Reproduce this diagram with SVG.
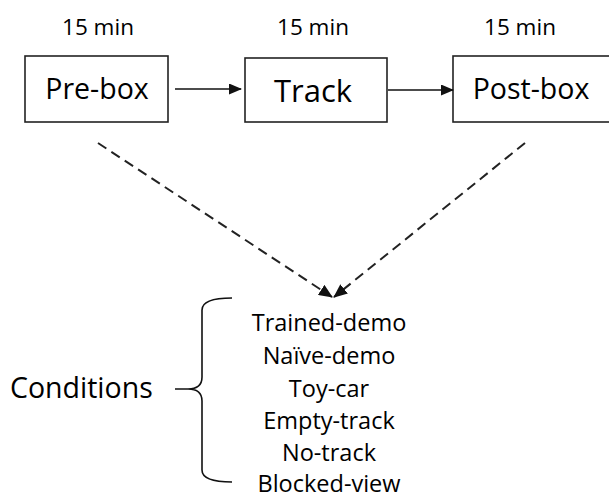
<svg xmlns="http://www.w3.org/2000/svg" width="609" height="499" viewBox="0 0 609 499">
<style>
  text { font-family: "Open Sans", "Liberation Sans", sans-serif; fill: #000; }
  .box { fill: #fff; stroke: #222; stroke-width: 1.6; }
  .time { font-size: 22.5px; text-anchor: middle; }
  .lbl { font-size: 28.5px; text-anchor: middle; }
  .cond { font-size: 23.5px; text-anchor: middle; }
  .solid { stroke: #111; stroke-width: 1.6; fill: none; }
  .dash { stroke: #222; stroke-width: 2; fill: none; stroke-dasharray: 10 6; }
</style>
<defs>
  <marker id="ah" markerWidth="13" markerHeight="11" refX="12" refY="5.5" orient="auto" markerUnits="userSpaceOnUse">
    <path d="M0,0 L13,5.5 L0,11 Z" fill="#111"/>
  </marker>
  <marker id="ahd" markerWidth="14" markerHeight="12" refX="13" refY="6" orient="auto" markerUnits="userSpaceOnUse">
    <path d="M0,0 L14,6 L0,12 Z" fill="#111"/>
  </marker>
</defs>
<rect width="609" height="499" fill="#fff"/>
<g id="labels-time">
  <text class="time" x="98" y="35">15 min</text>
  <text class="time" x="313" y="35">15 min</text>
  <text class="time" x="520" y="35">15 min</text>
</g>
<g id="node-prebox">
  <rect class="box" x="25" y="56" width="143" height="66"/>
  <text class="lbl" x="97" y="99">Pre-box</text>
</g>
<g id="node-track">
  <rect class="box" x="245" y="58" width="142" height="64"/>
  <text class="lbl" x="313" y="102" style="font-size:31px">Track</text>
</g>
<g id="node-postbox">
  <rect class="box" x="453" y="56" width="170" height="66"/>
  <text class="lbl" x="531" y="99">Post-box</text>
</g>
<g id="connectors">
  <line class="solid" x1="175" y1="89" x2="241" y2="89" marker-end="url(#ah)"/>
  <line class="solid" x1="388" y1="90" x2="453" y2="90" marker-end="url(#ah)"/>
  <line class="dash" x1="98" y1="143" x2="332" y2="297" marker-end="url(#ahd)"/>
  <line class="dash" x1="525" y1="143" x2="334" y2="297" marker-end="url(#ahd)"/>
</g>
<g id="node-conditions">
  <text x="10" y="398" style="font-size:28.5px">Conditions</text>
  <path class="solid" d="M232,298 Q202,298 202,310 L202,377 Q202,389 188,389 L175,389 M188,389 Q202,389 202,401 L202,470 Q202,482 232,482"/>
  <text class="cond" x="329" y="331">Trained-demo</text>
  <text class="cond" x="329" y="364">Naïve-demo</text>
  <text class="cond" x="329" y="397">Toy-car</text>
  <text class="cond" x="329" y="429">Empty-track</text>
  <text class="cond" x="329" y="461">No-track</text>
  <text class="cond" x="329" y="492">Blocked-view</text>
</g>
</svg>
